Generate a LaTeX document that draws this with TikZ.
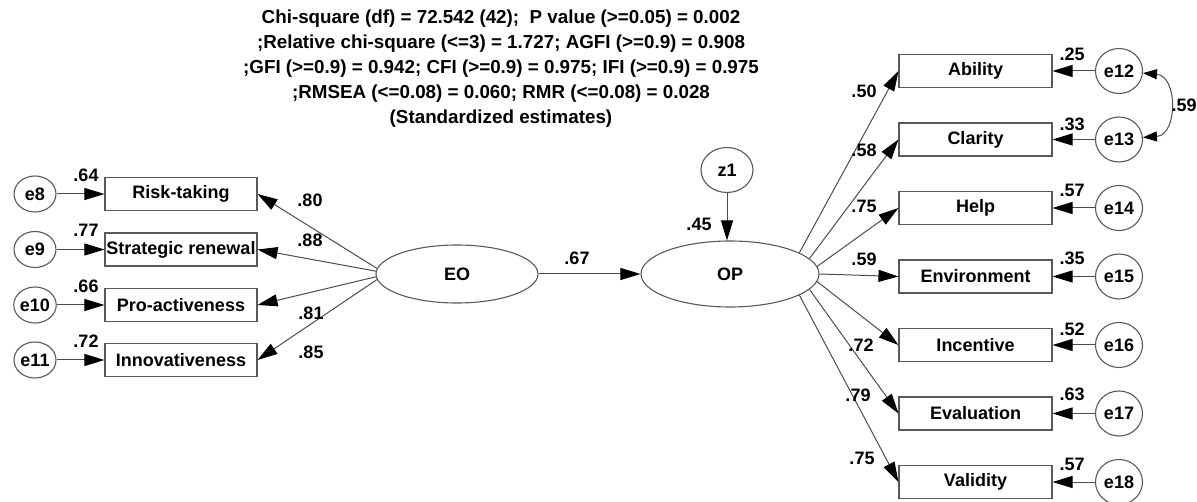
\documentclass[tikz,border=0pt]{standalone}
\usepackage{fontspec}
\setmainfont{Liberation Sans}
\usetikzlibrary{arrows.meta,shapes.geometric}
\begin{document}
\begin{tikzpicture}[x=1pt,y=-1pt,
 font=\fontsize{18}{25}\selectfont\bfseries,
 obs/.style={draw=black!65,line width=1.1pt,minimum width=152pt,minimum height=33pt,inner sep=0pt},
 lat/.style={ellipse,draw=black!65,line width=1.1pt,inner sep=0pt},
 errl/.style={ellipse,draw=black!65,line width=1.1pt,minimum width=42pt,minimum height=36pt,inner sep=0pt},
 errr/.style={ellipse,draw=black!65,line width=1.1pt,minimum width=47pt,minimum height=45pt,inner sep=0pt},
 arr/.style={draw=black!70,line width=1pt,-{Triangle[length=20pt,width=12pt,color=black]}},
 cov/.style={draw=black!70,line width=1pt,{Triangle[length=14pt,width=10pt,color=black]}-{Triangle[length=14pt,width=10pt,color=black]}},
 lab/.style={inner sep=0pt}]
\useasboundingbox (0,0) rectangle (1197,502);
\node[align=center,inner sep=0pt,font=\fontsize{18.8}{25}\selectfont\bfseries] (title) at (501,68.5) {Chi-square (df) = 72.542 (42);\ \ P value (>=0.05) = 0.002\\;Relative chi-square (<=3) = 1.727; AGFI (>=0.9) = 0.908\\;GFI (>=0.9) = 0.942; CFI (>=0.9) = 0.975; IFI (>=0.9) = 0.975\\;RMSEA (<=0.08) = 0.060; RMR (<=0.08) = 0.028\\(Standardized estimates)};
% left observed
\node[obs] (rt) at (181,194) {Risk-taking};
\node[obs] (sr) at (181,249.5) {Strategic renewal};
\node[obs] (pa) at (181,305) {Pro-activeness};
\node[obs] (iv) at (181,360) {Innovativeness};
\node[errl] (e8) at (35,194) {e8};
\node[errl] (e9) at (35,249.5) {e9};
\node[errl] (e10) at (35,305) {e10};
\node[errl] (e11) at (35,360) {e11};
\draw[arr] (e8) -- (rt);
\draw[arr] (e9) -- (sr);
\draw[arr] (e10) -- (pa);
\draw[arr] (e11) -- (iv);
\node[lab] (r64) at (86,175) {.64};
\node[lab] (r77) at (86,230.5) {.77};
\node[lab] (r66) at (86,286) {.66};
\node[lab] (r72) at (86,341) {.72};
% latent
\node[lat,minimum width=162pt,minimum height=58pt] (EO) at (457,274) {EO};
\node[lat,minimum width=178pt,minimum height=66pt] (OP) at (730,274) {OP};
\node[ellipse,draw=black!65,line width=1.1pt,inner sep=0pt,minimum width=52pt,minimum height=45pt] (z1) at (727,170) {z1};
\draw[arr] (EO) -- (OP);
\node[lab] (b67) at (577,258) {.67};
\draw[arr] (z1) -- (z1 |- OP.north);
\node[lab] (b45) at (699,224) {.45};
% EO loadings
\draw[arr] (EO.176) -- (rt.east);
\draw[arr] (EO.178) -- (sr.east);
\draw[arr] (EO.182) -- (pa.east);
\draw[arr] (EO.184) -- (iv.east);
\node[lab] (l80) at (310,200) {.80};
\node[lab] (l88) at (310,240) {.88};
\node[lab] (l81) at (311,313) {.81};
\node[lab] (l85) at (311,352) {.85};
% right observed
\node[obs,minimum width=153pt] (ab) at (975.5,71) {Ability};
\node[obs,minimum width=153pt] (cl) at (975.5,139.5) {Clarity};
\node[obs,minimum width=153pt] (hp) at (975.5,208) {Help};
\node[obs,minimum width=153pt] (en) at (975.5,276.5) {Environment};
\node[obs,minimum width=153pt] (ic) at (975.5,345) {Incentive};
\node[obs,minimum width=153pt] (ev) at (975.5,413.5) {Evaluation};
\node[obs,minimum width=153pt] (va) at (975.5,482) {Validity};
\node[errr] (e12) at (1119,71) {e12};
\node[errr] (e13) at (1119,139.5) {e13};
\node[errr] (e14) at (1119,208) {e14};
\node[errr] (e15) at (1119,276.5) {e15};
\node[errr] (e16) at (1119,345) {e16};
\node[errr] (e17) at (1119,413.5) {e17};
\node[errr] (e18) at (1119,482) {e18};
\draw[arr] (e12) -- (ab);
\draw[arr] (e13) -- (cl);
\draw[arr] (e14) -- (hp);
\draw[arr] (e15) -- (en);
\draw[arr] (e16) -- (ic);
\draw[arr] (e17) -- (ev);
\draw[arr] (e18) -- (va);
\node[lab] (s25) at (1072,54) {.25};
\node[lab] (s33) at (1072,124) {.33};
\node[lab] (s57a) at (1072,190) {.57};
\node[lab] (s35) at (1072,258) {.35};
\node[lab] (s52) at (1072,329) {.52};
\node[lab] (s63) at (1072,394) {.63};
\node[lab] (s57b) at (1072,464) {.57};
\draw[cov] (e12.-5) .. controls (1178,76) and (1178,135) .. (e13.5);
\node[lab] (c59) at (1184,105) {.59};
% OP loadings
\draw[arr] (OP.17) -- (ab.west);
\draw[arr] (OP.11) -- (cl.west);
\draw[arr] (OP.5) -- (hp.west);
\draw[arr] (OP.0) -- (en.west);
\draw[arr] (OP.-5) -- (ic.west);
\draw[arr] (OP.-11) -- (ev.west);
\draw[arr] (OP.-17) -- (va.west);
\node[lab] (m50) at (864,91) {.50};
\node[lab] (m58) at (864,150) {.58};
\node[lab] (m75a) at (864,206) {.75};
\node[lab] (m59) at (864,259) {.59};
\node[lab] (m72) at (861,345) {.72};
\node[lab] (m79) at (858,395) {.79};
\node[lab] (m75b) at (862,458) {.75};
\end{tikzpicture}
\end{document}
